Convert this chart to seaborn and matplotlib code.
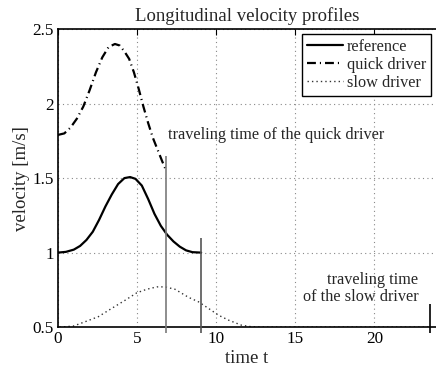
import numpy as np
import pandas as pd
import seaborn as sns
import matplotlib
matplotlib.use("Agg")
import matplotlib.pyplot as plt

# reference profile
ref_t = [0, 0.5, 1.0, 1.4, 1.8, 2.2, 2.6, 3.0, 3.4, 3.8, 4.2, 4.56, 4.9, 5.3, 5.7, 6.1, 6.5, 6.9, 7.3, 7.7, 8.1, 8.5, 9.05]
ref_v = [1.0, 1.005, 1.02, 1.045, 1.085, 1.14, 1.22, 1.31, 1.39, 1.46, 1.50, 1.507, 1.495, 1.45, 1.36, 1.26, 1.18, 1.12, 1.075, 1.04, 1.015, 1.003, 1.0]

# quick driver
quick_t = [0, 0.4, 0.8, 1.2, 1.6, 2.0, 2.4, 2.8, 3.2, 3.6, 3.9, 4.2, 4.5, 4.8, 5.1, 5.4, 5.7, 6.0, 6.3, 6.6, 6.84]
quick_v = [1.79, 1.80, 1.84, 1.90, 1.98, 2.09, 2.21, 2.31, 2.38, 2.40, 2.39, 2.35, 2.30, 2.21, 2.10, 1.98, 1.87, 1.77, 1.69, 1.61, 1.55]

# slow driver
slow_t = [0.1, 0.97, 1.71, 2.55, 3.4, 4.24, 4.98, 5.61, 6.25, 6.77, 7.4, 8.25, 8.88, 9.51, 10.15, 10.78, 11.6, 12.26, 13.0, 23.5]
slow_v = [0.5, 0.507, 0.536, 0.57, 0.626, 0.68, 0.73, 0.754, 0.77, 0.77, 0.754, 0.70, 0.67, 0.626, 0.58, 0.547, 0.513, 0.502, 0.5, 0.5]

# traveling time markers (time, top of line, colour)
mark_t = [6.84, 9.05, 23.5]
mark_top = [1.65, 1.10, 0.655]
mark_col = ["#7a7a7a", "#555555", "black"]

x_ticks = [0, 5, 10, 15, 20]
y_ticks = [0.5, 1, 1.5, 2, 2.5]
y_labels = ["0.5", "1", "1.5", "2", "2.5"]

sns.set_style("white")
plt.rcParams["font.family"] = ["Liberation Serif", "DejaVu Serif"]

fig = plt.figure(figsize=(4.36, 3.73), dpi=100)
ax = fig.add_axes([0.133, 0.123, 0.867, 0.799])

ref_df = pd.DataFrame({"t": ref_t, "v": ref_v})
quick_df = pd.DataFrame({"t": quick_t, "v": quick_v})
slow_df = pd.DataFrame({"t": slow_t, "v": slow_v})

sns.lineplot(data=ref_df, x="t", y="v", ax=ax, color="black", lw=1.6,
             label="reference", sort=False, estimator=None,
             solid_joinstyle="round")
sns.lineplot(data=quick_df, x="t", y="v", ax=ax, color="black", lw=1.6,
             label="quick driver", sort=False, estimator=None,
             linestyle=(0, (4.0, 1.8, 0.5, 1.8)))
sns.lineplot(data=slow_df, x="t", y="v", ax=ax, color="#333333", lw=1.0,
             label="slow driver", sort=False, estimator=None,
             linestyle=(0, (1, 2.2)))

for t, top, c in zip(mark_t, mark_top, mark_col):
    ax.vlines(t, 0.46, top, color=c, lw=1.2, clip_on=False, zorder=5)

ax.text(6.96, 1.79, "traveling time of the quick driver", fontsize=11.7,
        va="center", ha="left")
ax.text(22.8, 0.76, "traveling time\nof the slow driver", fontsize=11.7,
        va="center", ha="right", linespacing=1.1)

ax.set_xlim(0, 23.9)
ax.set_ylim(0.5, 2.5)
ax.set_xticks(x_ticks)
ax.set_yticks(y_ticks)
ax.set_yticklabels(y_labels)
ax.grid(True, linestyle=(0, (1, 3)), color="#888888", lw=0.8)
ax.tick_params(direction="in", length=4, width=0.8, labelsize=12.3,
               top=True, right=False, pad=3, colors="black")
for s in ["left", "bottom", "top"]:
    ax.spines[s].set_color("black")
    ax.spines[s].set_linewidth(1.2)
ax.spines["right"].set_visible(False)

ax.set_title("Longitudinal velocity profiles", fontsize=13.5, pad=6)
ax.set_xlabel("time t", fontsize=13.5, labelpad=2)
ax.set_ylabel("velocity [m/s]", fontsize=13.5, labelpad=2)

leg = ax.legend(loc="upper right", fontsize=11.7, frameon=True, fancybox=False,
                handlelength=2.2, handletextpad=0.25, borderpad=0.3,
                labelspacing=0.12, borderaxespad=0.3)
leg.get_frame().set_edgecolor("black")
leg.get_frame().set_linewidth(1.0)
leg.get_frame().set_alpha(1)

fig.savefig("out.png", dpi=100)
